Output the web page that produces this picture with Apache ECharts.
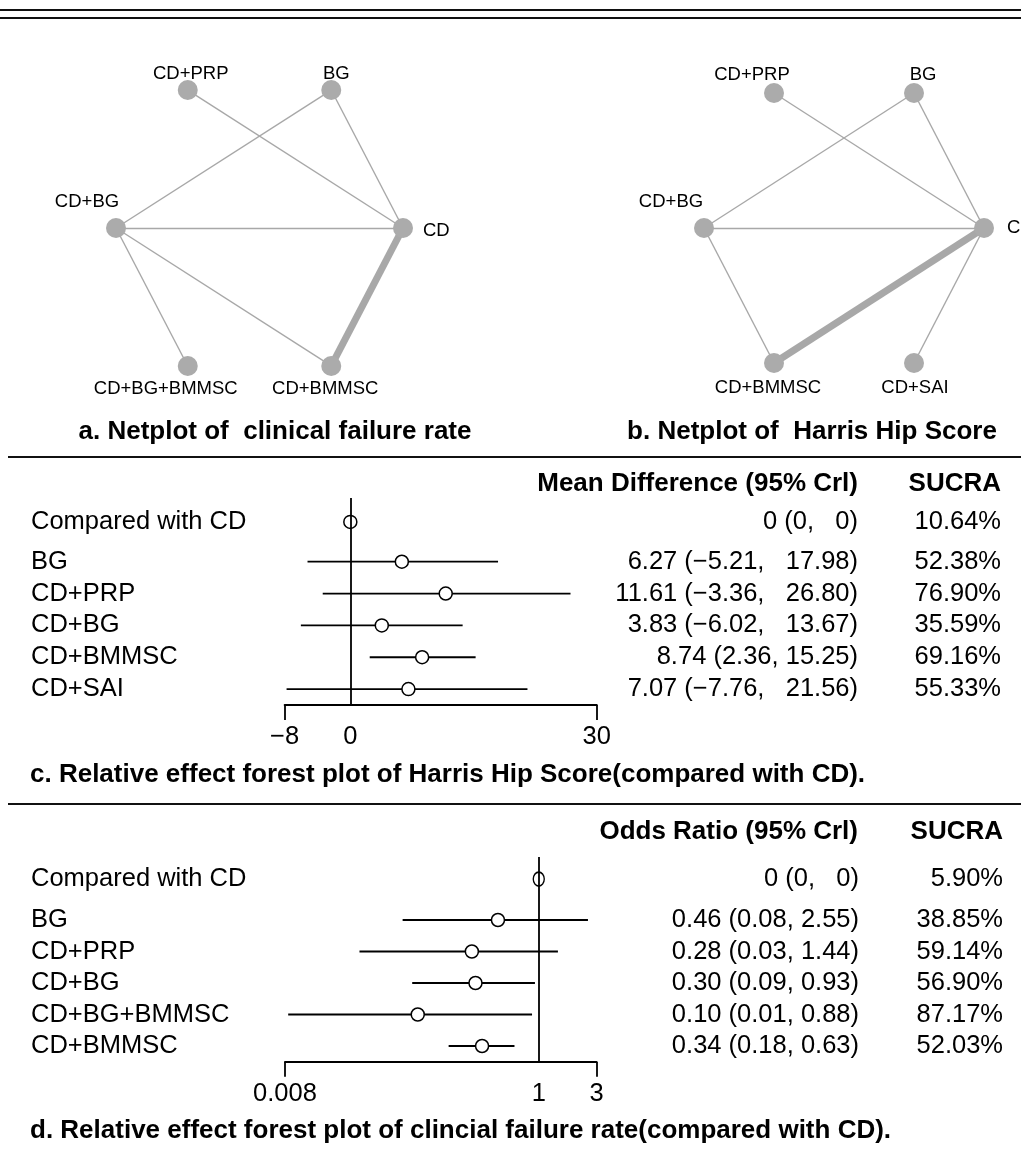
<!DOCTYPE html>
<html><head><meta charset="utf-8">
<script src="https://cdn.jsdelivr.net/npm/echarts@6/dist/echarts.min.js"></script>
<style>html,body{margin:0;padding:0;background:#fff}#c{width:1021px;height:1157px}</style>
</head><body><div id="c"></div>
<script>
// ---------------- Data ----------------
// Network a (clinical failure rate): nodes in circular order starting at 3 o'clock, counter-clockwise
const netA_nodes = ['CD', 'BG', 'CD+PRP', 'CD+BG', 'CD+BG+BMMSC', 'CD+BMMSC'];
const netA_edges = [['CD+PRP','CD',1],['BG','CD+BG',1],['BG','CD',1],['CD+BG','CD',1],['CD+BG','CD+BG+BMMSC',1],['CD+BG','CD+BMMSC',1],['CD','CD+BMMSC',5]];
// Network b (Harris Hip Score)
const netB_nodes = ['CD', 'BG', 'CD+PRP', 'CD+BG', 'CD+BMMSC', 'CD+SAI'];
const netB_edges = [['CD+PRP','CD',1],['BG','CD+BG',1],['BG','CD',1],['CD+BG','CD',1],['CD+BG','CD+BMMSC',1],['CD','CD+BMMSC',5],['CD','CD+SAI',1]];

// Forest c: Harris Hip Score, mean difference
const hhsRows  = ['Compared with CD', 'BG', 'CD+PRP', 'CD+BG', 'CD+BMMSC', 'CD+SAI'];
const hhsMean  = [0, 6.27, 11.61, 3.83, 8.74, 7.07];
const hhsLow   = [0, -5.21, -3.36, -6.02, 2.36, -7.76];
const hhsHigh  = [0, 17.98, 26.80, 13.67, 15.25, 21.56];
const hhsText  = ['0 (0,   0)', '6.27 (\u22125.21,   17.98)', '11.61 (\u22123.36,   26.80)', '3.83 (\u22126.02,   13.67)', '8.74 (2.36, 15.25)', '7.07 (\u22127.76,   21.56)'];
const hhsSucra = ['10.64%', '52.38%', '76.90%', '35.59%', '69.16%', '55.33%'];
const hhsTicks = [-8, 0, 30];

// Forest d: clinical failure rate, odds ratio
const cfrRows  = ['Compared with CD', 'BG', 'CD+PRP', 'CD+BG', 'CD+BG+BMMSC', 'CD+BMMSC'];
const cfrOR    = [1, 0.46, 0.28, 0.30, 0.10, 0.34];
const cfrLow   = [1, 0.075, 0.033, 0.09, 0.0085, 0.18];
const cfrHigh  = [1, 2.55, 1.44, 0.93, 0.88, 0.63];
const cfrText  = ['0 (0,   0)', '0.46 (0.08, 2.55)', '0.28 (0.03, 1.44)', '0.30 (0.09, 0.93)', '0.10 (0.01, 0.88)', '0.34 (0.18, 0.63)'];
const cfrSucra = ['5.90%', '38.85%', '59.14%', '56.90%', '87.17%', '52.03%'];
const cfrTicks = [0.008, 1, 3];
const cfrTickLabels = ['0.008', '1', '3'];

// ---------------- Layout helpers ----------------
const FONT = '"Liberation Sans", Arial, Helvetica, sans-serif';
const REG = 25.5, BOLD = 26, NODE = 18.5;

function circ(nodes) { // evenly spaced circular layout
  return nodes.map((n, k) => [Math.cos(k * Math.PI / 3), Math.sin(k * Math.PI / 3)]);
}
const labA = {
  'CD': {position: 'right', distance: 10, offset: [0, 3]},
  'BG': {position: 'top', distance: -3, offset: [5, 0]},
  'CD+PRP': {position: 'top', distance: -3, offset: [3, 0]},
  'CD+BG': {position: 'top', distance: -3, offset: [-29, -10]},
  'CD+BG+BMMSC': {position: 'bottom', distance: 3, offset: [-22, 0]},
  'CD+BMMSC': {position: 'bottom', distance: 3, offset: [-6, 0]}
};
const labB = {
  'CD': {position: 'right', distance: 13, offset: [0, 0]},
  'BG': {position: 'top', distance: -3, offset: [9, -2]},
  'CD+PRP': {position: 'top', distance: -3, offset: [-22, -2]},
  'CD+BG': {position: 'top', distance: -3, offset: [-33, -10]},
  'CD+BMMSC': {position: 'bottom', distance: 5, offset: [-6, 0]},
  'CD+SAI': {position: 'bottom', distance: 5, offset: [1, 0]}
};
function netSeries(nodes, edges, labs, ai) {
  const pos = circ(nodes);
  return {
    type: 'graph', coordinateSystem: 'cartesian2d', xAxisIndex: ai, yAxisIndex: ai,
    symbol: 'circle', symbolSize: 20, silent: true, z: 2,
    itemStyle: {color: '#ababab'},
    lineStyle: {color: '#a8a8a8', opacity: 1, curveness: 0},
    edgeSymbol: ['none', 'none'],
    label: {show: true, color: '#000', fontSize: NODE, fontFamily: FONT},
    emphasis: {disabled: true},
    data: nodes.map((n, k) => ({name: n, value: pos[k], label: labs[n]})),
    links: edges.map(e => ({source: e[0], target: e[1], lineStyle: {width: 1.4 * e[2]}}))
  };
}
const posC = i => (i === 0 ? -1.25 : i - 1);
const posD = i => (i === 0 ? -1.3 : i - 1);
function nearestIdx(arr, v) { let b = 0; arr.forEach((p, i) => { if (Math.abs(p - v) < Math.abs(arr[b] - v)) b = i; }); return b; }
const rowPosC = hhsRows.map((r, i) => posC(i));
const rowPosD = cfrRows.map((r, i) => posD(i));

function hiddenAxis(gi) { return {type: 'value', gridIndex: gi, min: -1, max: 1, show: false}; }
function rowAxis(gi, rowPos, texts, side, align, margin) {
  return {
    type: 'value', gridIndex: gi, min: -2, max: 4.5, inverse: true, position: side,
    axisLine: {show: false, onZero: false}, axisTick: {show: false}, splitLine: {show: false},
    axisLabel: {
      show: true, customValues: rowPos, align: align, margin: margin,
      color: '#000', fontSize: REG, fontFamily: FONT,
      formatter: v => texts[nearestIdx(rowPos, v)]
    }
  };
}
function ciSeries(xi, yi, data, z) {
  return {
    type: 'custom', xAxisIndex: xi, yAxisIndex: yi, z: z, silent: true,
    data: data, encode: {x: [0, 1], y: 2},
    renderItem: (params, api) => {
      const a = api.coord([api.value(0), api.value(2)]);
      const b = api.coord([api.value(1), api.value(2)]);
      return {type: 'line', shape: {x1: a[0], y1: a[1], x2: b[0], y2: b[1]}, style: {stroke: '#000', lineWidth: 1.8}};
    }
  };
}
const refLine = (x) => ({silent: true, symbol: ['none', 'none'], label: {show: false},
  lineStyle: {color: '#000', width: 1.8, type: 'solid'}, emphasis: {disabled: true}, data: [{xAxis: x}]});

const gC = {left: 284.6, top: 498, width: 312.2, height: 207};
const gD = {left: 285, top: 857, width: 311.5, height: 204.75};
const log10 = Math.log10;

const option = {
  animation: false,
  backgroundColor: '#fff',
  textStyle: {fontFamily: FONT},
  grid: [
    {left: 116, top: 68.7, width: 287, height: 318.6, containLabel: false, outerBoundsMode: 'none'},
    {left: 704, top: 72.1, width: 280, height: 311.8, containLabel: false, outerBoundsMode: 'none'},
    Object.assign({containLabel: false, outerBoundsMode: 'none'}, gC),
    Object.assign({containLabel: false, outerBoundsMode: 'none'}, gD)
  ],
  xAxis: [
    hiddenAxis(0), hiddenAxis(1),
    {
      type: 'value', gridIndex: 2, min: -8, max: 30, position: 'bottom', splitLine: {show: false},
      axisLine: {show: true, onZero: false, lineStyle: {color: '#000', width: 1.8}},
      axisTick: {show: true, customValues: [hhsTicks[0], hhsTicks[2]], length: 15, lineStyle: {color: '#000', width: 1.8}},
      axisLabel: {customValues: hhsTicks, margin: 19, color: '#000', fontSize: REG, fontFamily: FONT,
        formatter: v => (v < 0 ? '\u2212' + Math.abs(v) : String(v))}
    },
    {
      type: 'value', gridIndex: 3, min: log10(cfrTicks[0]), max: log10(cfrTicks[2]), position: 'bottom', splitLine: {show: false},
      axisLine: {show: true, onZero: false, lineStyle: {color: '#000', width: 1.8}},
      axisTick: {show: true, customValues: [log10(cfrTicks[0]), log10(cfrTicks[2])], length: 15, lineStyle: {color: '#000', width: 1.8}},
      axisLabel: {customValues: cfrTicks.map(log10), margin: 19, color: '#000', fontSize: REG, fontFamily: FONT,
        formatter: v => cfrTickLabels[nearestIdx(cfrTicks.map(log10), v)]}
    }
  ],
  yAxis: [
    hiddenAxis(0), hiddenAxis(1),
    rowAxis(2, rowPosC, hhsRows, 'left', 'left', gC.left - 31),
    rowAxis(2, rowPosC, hhsText, 'right', 'right', 858 - (gC.left + gC.width)),
    rowAxis(2, rowPosC, hhsSucra, 'right', 'right', 1001 - (gC.left + gC.width)),
    rowAxis(3, rowPosD, cfrRows, 'left', 'left', gD.left - 31),
    rowAxis(3, rowPosD, cfrText, 'right', 'right', 859 - (gD.left + gD.width)),
    rowAxis(3, rowPosD, cfrSucra, 'right', 'right', 1003 - (gD.left + gD.width))
  ],
  series: [
    netSeries(netA_nodes, netA_edges, labA, 0),
    netSeries(netB_nodes, netB_edges, labB, 1),
    // forest c
    Object.assign(ciSeries(2, 2, hhsRows.map((r, i) => [hhsLow[i], hhsHigh[i], posC(i)]).slice(1), 2), {markLine: refLine(0)}),
    {
      type: 'scatter', xAxisIndex: 2, yAxisIndex: 2, z: 4, silent: true,
      symbol: 'circle', symbolSize: 13,
      itemStyle: {color: '#fff', borderColor: '#000', borderWidth: 1.5, opacity: 1},
      data: hhsMean.map((m, i) => [m, posC(i)])
    },
    // forest d
    ciSeries(3, 5, cfrRows.map((r, i) => [log10(cfrLow[i]), log10(cfrHigh[i]), posD(i)]).slice(1), 2),
    {
      type: 'scatter', xAxisIndex: 3, yAxisIndex: 5, z: 4, silent: true,
      symbol: 'circle', symbolSize: 13,
      itemStyle: {color: '#fff', borderColor: '#000', borderWidth: 1.5, opacity: 1},
      data: cfrOR.map((m, i) => i === 0
        ? {value: [log10(m), posD(i)], symbolSize: [11, 14], itemStyle: {color: 'rgba(255,255,255,0)'}}
        : [log10(m), posD(i)])
    },
    {type: 'line', xAxisIndex: 3, yAxisIndex: 5, z: 6, data: [], silent: true, markLine: refLine(log10(cfrOR[0]))}
  ],
  graphic: [
    {type: 'line', shape: {x1: 0, y1: 10, x2: 1021, y2: 10}, style: {stroke: '#111', lineWidth: 2}},
    {type: 'line', shape: {x1: 0, y1: 18, x2: 1021, y2: 18}, style: {stroke: '#111', lineWidth: 2}},
    {type: 'line', shape: {x1: 8, y1: 457, x2: 1021, y2: 457}, style: {stroke: '#111', lineWidth: 2}},
    {type: 'line', shape: {x1: 8, y1: 804, x2: 1021, y2: 804}, style: {stroke: '#111', lineWidth: 2}},
    {type: 'text', x: 275, y: 432, style: {text: 'a. Netplot of  clinical failure rate', align: 'center', verticalAlign: 'middle', font: 'bold ' + BOLD + 'px ' + FONT, fill: '#000'}},
    {type: 'text', x: 812, y: 432, style: {text: 'b. Netplot of  Harris Hip Score', align: 'center', verticalAlign: 'middle', font: 'bold ' + BOLD + 'px ' + FONT, fill: '#000'}},
    {type: 'text', x: 858, y: 484, style: {text: 'Mean Difference (95% Crl)', align: 'right', verticalAlign: 'middle', font: 'bold ' + BOLD + 'px ' + FONT, fill: '#000'}},
    {type: 'text', x: 1001, y: 484, style: {text: 'SUCRA', align: 'right', verticalAlign: 'middle', font: 'bold ' + BOLD + 'px ' + FONT, fill: '#000'}},
    {type: 'text', x: 30, y: 775, style: {text: 'c. Relative effect forest plot of Harris Hip Score(compared with CD).', align: 'left', verticalAlign: 'middle', font: 'bold ' + BOLD + 'px ' + FONT, fill: '#000'}},
    {type: 'text', x: 858, y: 832, style: {text: 'Odds Ratio (95% Crl)', align: 'right', verticalAlign: 'middle', font: 'bold ' + BOLD + 'px ' + FONT, fill: '#000'}},
    {type: 'text', x: 1003, y: 832, style: {text: 'SUCRA', align: 'right', verticalAlign: 'middle', font: 'bold ' + BOLD + 'px ' + FONT, fill: '#000'}},
    {type: 'text', x: 30, y: 1131, style: {text: 'd. Relative effect forest plot of clincial failure rate(compared with CD).', align: 'left', verticalAlign: 'middle', font: 'bold ' + BOLD + 'px ' + FONT, fill: '#000'}}
  ]
};
const chart = echarts.init(document.getElementById('c'), null, {renderer: 'canvas'});
chart.setOption(option);
</script>
</body></html>
